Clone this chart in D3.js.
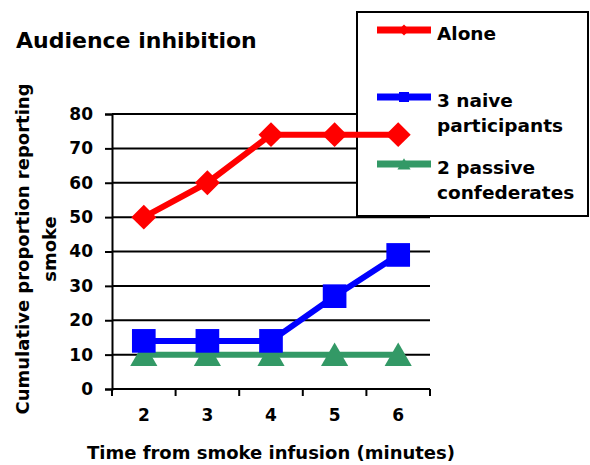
<!DOCTYPE html>
<html>
<head>
<meta charset="utf-8">
<script src="https://cdn.jsdelivr.net/npm/d3@7"></script>
<style>
  html, body { margin: 0; padding: 0; background: #fff; }
  svg { display: block; }
  text { font-family: "DejaVu Sans", Verdana, sans-serif; font-weight: bold; fill: #000; }
</style>
</head>
<body>
<svg id="chart" width="590" height="465"></svg>
<script>
// Minutes after smoke started entering the room
const minutes = ["2", "3", "4", "5", "6"];
// Cumulative % of subjects who reported the smoke, per condition
const alone = [50, 60, 74, 74, 74];
const naive = [14, 14, 14, 27, 39];
const passive = [10, 10, 10, 10, 10];
const yTicks = [0, 10, 20, 30, 40, 50, 60, 70, 80];
const seriesNames = ["Alone", "3 naive participants", "2 passive confederates"];

const series = [
  { name: seriesNames[0], lines: ["Alone"], values: alone, color: "#ff0000", symbol: "diamond" },
  { name: seriesNames[1], lines: ["3 naive", "participants"], values: naive, color: "#0000ff", symbol: "square" },
  { name: seriesNames[2], lines: ["2 passive", "confederates"], values: passive, color: "#339966", symbol: "triangle" }
];

const svg = d3.select("#chart");
const plot = { left: 112, right: 430, top: 114, bottom: 389 };

const x = d3.scaleBand().domain(minutes).range([plot.left, plot.right]).padding(0);
const y = d3.scaleLinear().domain([0, 80]).range([plot.bottom, plot.top]);
const cx = m => x(m) + x.bandwidth() / 2;

// Title
svg.append("text").attr("x", 16).attr("y", 48)
  .style("font-size", "22px").text("Audience inhibition");

// Horizontal gridlines
svg.append("g").selectAll("line").data(yTicks.filter(d => d > 0)).join("line")
  .attr("x1", plot.left).attr("x2", plot.right)
  .attr("y1", d => y(d)).attr("y2", d => y(d))
  .attr("stroke", "#000").attr("stroke-width", 2);

// Y axis
const yAxis = svg.append("g").attr("transform", `translate(${plot.left},0)`)
  .call(d3.axisLeft(y).tickValues(yTicks).tickSize(7).tickPadding(12));
yAxis.select(".domain").attr("stroke", "#000").attr("stroke-width", 2);
yAxis.selectAll(".tick line").attr("stroke", "#000").attr("stroke-width", 2);
yAxis.selectAll(".tick text").style("font-size", "17px").style("font-family", null);

// X axis: ticks at category boundaries, labels at centres
const xAxisG = svg.append("g").attr("transform", `translate(0,${plot.bottom})`);
xAxisG.append("line").attr("x1", plot.left).attr("x2", plot.right)
  .attr("stroke", "#000").attr("stroke-width", 2);
const edges = minutes.map(m => x(m)).concat([x(minutes[minutes.length - 1]) + x.bandwidth()]);
xAxisG.selectAll("line.tk").data(edges).join("line").attr("class", "tk")
  .attr("x1", d => d).attr("x2", d => d).attr("y1", 0).attr("y2", 7)
  .attr("stroke", "#000").attr("stroke-width", 2);
xAxisG.selectAll("text").data(minutes).join("text")
  .attr("x", d => cx(d)).attr("y", 32)
  .attr("text-anchor", "middle").style("font-size", "17px").text(d => d);

// Axis titles
svg.append("text").attr("x", 271).attr("y", 459).attr("text-anchor", "middle")
  .style("font-size", "18px").text("Time from smoke infusion (minutes)");
const yTitle = svg.append("text").attr("transform", "translate(29,249) rotate(-90)")
  .attr("text-anchor", "middle").style("font-size", "18px");
yTitle.append("tspan").attr("x", 0).attr("y", 0).text("Cumulative proportion reporting");
yTitle.append("tspan").attr("x", 0).attr("y", 27).text("smoke");

// Legend box (drawn under the series lines)
const legend = svg.append("g");
legend.append("rect").attr("x", 357).attr("y", 12).attr("width", 231).attr("height", 204)
  .attr("fill", "#fff").attr("stroke", "#000").attr("stroke-width", 2);

// Marker shapes: diamond is a square turned 45 degrees
const symbolType = { diamond: d3.symbolSquare, square: d3.symbolSquare, triangle: d3.symbolTriangle };
const rotation = { diamond: 45, square: 0, triangle: 0 };
const markerSize = { diamond: 312, square: 560, triangle: 320 };
const legendSize = { diamond: 60, square: 100, triangle: 75 };
const markerShift = { diamond: 0, square: 0, triangle: 3.5 };

const legendRows = [30, 97, 164];
series.forEach((s, i) => {
  const g = legend.append("g").attr("transform", `translate(0,${legendRows[i]})`);
  g.append("line").attr("x1", 377).attr("x2", 431).attr("y1", 0).attr("y2", 0)
    .attr("stroke", s.color).attr("stroke-width", 7);
  g.append("path").attr("transform", `translate(404,${markerShift[s.symbol] / 2}) rotate(${rotation[s.symbol]})`)
    .attr("d", d3.symbol(symbolType[s.symbol], legendSize[s.symbol])()).attr("fill", s.color);
  const t = g.append("text").attr("x", 437).attr("y", 10).style("font-size", "18.5px");
  s.lines.forEach((ln, j) => t.append("tspan").attr("x", 437).attr("dy", j === 0 ? 0 : 25).text(ln));
});

// Series lines and markers
const line = d3.line().x((d, i) => cx(minutes[i])).y(d => y(d));
[2, 1, 0].forEach(k => {
  const s = series[k];
  const g = svg.append("g");
  g.append("path").datum(s.values).attr("d", line).attr("fill", "none")
    .attr("stroke", s.color).attr("stroke-width", 6).attr("stroke-linejoin", "round");
  g.selectAll("path.m").data(s.values).join("path").attr("class", "m")
    .attr("transform", (d, i) => `translate(${cx(minutes[i])},${y(d) + markerShift[s.symbol]}) rotate(${rotation[s.symbol]})`)
    .attr("d", d3.symbol(symbolType[s.symbol], markerSize[s.symbol])()).attr("fill", s.color);
});
</script>
</body>
</html>
